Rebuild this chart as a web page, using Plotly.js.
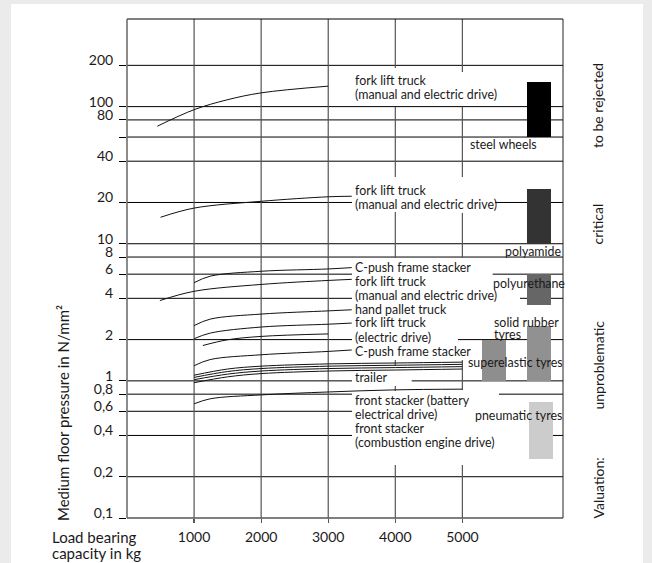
<!DOCTYPE html>
<html><head><meta charset="utf-8">
<script src="https://cdn.plot.ly/plotly-3.0.1.min.js"></script>
<style>html,body{margin:0;padding:0;background:#ebebeb}</style>
</head><body><div id="chart" style="width:652px;height:563px"></div>
<script>
// ---------- axis ticks ----------
const yTickVals = [0.1,0.2,0.4,0.6,0.8,1,2,4,6,8,10,20,40,60,80,100,200];
const yTickText = ['0,1','0,2','0,4','0,6','0,8','1','2','4','6','8','10','20','40','','80','100','200'];
const xTickVals = [1000,2000,3000,4000,5000];
const xTickText = ['1000','2000','3000','4000','5000'];

// ---------- curves: load bearing capacity (kg) vs floor pressure (N/mm²) ----------
const forkTopX = [452,1000,1490,2000,3000];
const forkTopY = [72,95,112,126,141];
const forkMidX = [500,1000,2000,3000,3350];
const forkMidY = [15.6,18.2,20.4,22.0,22.2];
const cpush1X = [1000,1240,2000,3000,3350];
const cpush1Y = [5.2,5.8,6.3,6.55,6.7];
const forkManX = [490,1000,2000,3000,3350];
const forkManY = [3.85,4.5,5.05,5.4,5.5];
const palletX = [1000,1240,2000,3000,3350];
const palletY = [2.53,2.82,3.07,3.24,3.3];
const forkElX = [1000,1240,2000,3000,3350];
const forkElY = [2.03,2.23,2.47,2.59,2.64];
const shortX = [1130,1490,2000,3000];
const shortY = [1.81,1.99,2.11,2.2];
const cpush2X = [1000,1240,2000,3000,3350];
const cpush2Y = [1.29,1.43,1.55,1.64,1.68];
const bundleX = [1000,1500,2000,3000,4000,5000];
const bundle1Y = [1.10,1.22,1.28,1.33,1.35,1.37];
const bundle2Y = [1.06,1.17,1.23,1.28,1.30,1.32];
const bundle3Y = [1.02,1.12,1.18,1.23,1.25,1.27];
const bundle4Y = [0.97,1.07,1.13,1.18,1.20,1.22];
const frontX = [1000,1240,2000,3000,4000,5000];
const frontY = [0.68,0.74,0.79,0.83,0.86,0.87];

// ---------- wheel materials: pressure range ----------
const materials = ['steel wheels','polyamide','polyurethane','solid rubber tyres','superelastic tyres','pneumatic tyres'];
const matMin = [60,10,3.6,1,1,0.27];
const matMax = [150,25,6,2.5,2,0.7];
const matColors = ['#000000','#333333','#666666','#919191','#8e8e8e','#cccccc'];

// ---------- texts ----------
const curveLabels = ['fork lift truck','(manual and electric drive)','fork lift truck','(manual and electric drive)',
  'C-push frame stacker','fork lift truck','(manual and electric drive)','hand pallet truck','fork lift truck',
  '(electric drive)','C-push frame stacker','trailer','front stacker (battery','electrical drive)','front stacker',
  '(combustion engine drive)'];
const materialLabels = ['steel wheels','polyamide','polyurethane','solid rubber','tyres','superelastic tyres','pneumatic tyres'];
const valuationLabels = ['to be rejected','critical','unproblematic','Valuation:'];
const yTitle = 'Medium floor pressure in N/mm²';
const xTitle = ['Load bearing','capacity in kg'];

// ---------- layout geometry (pixels) ----------
const L=127, R=563, T=19, B=518;
const PW=R-L, PH=B-T;
const YMIN=-1, YMAX=2.639, XMAX=6500;
const xp = px => (px-L)/PW;
const yp = py => (B-py)/PH;
const lp = v => (Math.log10(v)-YMIN)/(YMAX-YMIN);
const kg = px => (px-L)/PW*XMAX;

const FONT = 'Lato, "Open Sans", sans-serif';
const TXT = '#1a1a1a';

const curveLabelY = [80,94,190,204,267.5,281,295,309,322.5,337.5,351,378,400,414,428,442];
const materialLabelPos = [[470,144],[505,251],[492.7,283.5],[494,322.5],[494,334],[468.3,362],[475,415.5]];
const valuationY = [105.5,224,365,488];
const matCol = [kg(538.8),kg(538.8),kg(538.8),kg(538.8),kg(493.8),kg(541.2)];
const matWidth = kg(127+24.3);

// horizontal gridline visible segments (pixel x ranges)
const full = [[L,R]];
const hSegs = {
  200: full, 100: full, 80: full, 60: full, 40: full,
  20: [[L,352],[495,R]], 10: full, 8: full,
  6: [[L,352],[492.7,R]], 4: [[L,352],[520,R]], 2: [[L,352],[458,R]],
  1: [[L,352],[411.7,R]], 0.8: [[L,352],[499,R]], 0.6: [[L,352]],
  0.4: [[L,352],[529,R]], 0.2: full, 0.1: full
};
// vertical gridline visible segments (pixel y ranges)
const vSegs = {
  1000: [[T,B]], 2000: [[T,B]], 3000: [[T,B]],
  4000: [[T,68],[106.7,177],[212,258],[360,366],[386,391],[465,B]],
  5000: [[T,72],[106.7,177],[213,258],[360,390],[465,B]]
};

const shapes = [];
// white panel
shapes.push({type:'rect', xref:'paper', yref:'paper', x0:xp(11), x1:xp(643), y0:yp(570), y1:yp(4),
  fillcolor:'#ffffff', line:{width:0}, layer:'below'});
Object.keys(hSegs).forEach(k => {
  const v = parseFloat(k);
  hSegs[k].forEach(s => shapes.push({type:'line', xref:'x', yref:'paper', x0:kg(s[0]), x1:kg(s[1]),
    y0:lp(v), y1:lp(v), line:{color:'#000', width:1}, layer:'below'}));
});
Object.keys(vSegs).forEach(k => {
  const x = parseFloat(k);
  vSegs[k].forEach(s => shapes.push({type:'line', xref:'x', yref:'paper', x0:x, x1:x,
    y0:yp(s[0]), y1:yp(s[1]), line:{color:'#555', width:1.2}, layer:'below'}));
});
// frame
shapes.push({type:'line', xref:'paper', yref:'paper', x0:0, x1:1, y0:1, y1:1, line:{color:'#000', width:1}});
shapes.push({type:'line', xref:'paper', yref:'paper', x0:0, x1:0, y0:0, y1:1, line:{color:'#666', width:1.5}});
shapes.push({type:'line', xref:'paper', yref:'paper', x0:1, x1:1, y0:0, y1:1, line:{color:'#222', width:1}});

const LBL = 12.4;
const annotations = [];
curveLabels.forEach((t,i) => annotations.push({text:t, xref:'paper', yref:'paper', x:xp(354), y:yp(curveLabelY[i]),
  xanchor:'left', yanchor:'middle', showarrow:false, borderpad:0, font:{family:FONT, size:LBL, color:TXT}}));
materialLabels.forEach((t,i) => annotations.push({text:t, xref:'paper', yref:'paper', x:xp(materialLabelPos[i][0]-1),
  y:yp(materialLabelPos[i][1]), xanchor:'left', yanchor:'middle', showarrow:false, borderpad:0,
  font:{family:FONT, size:LBL, color:TXT}}));
valuationLabels.forEach((t,i) => annotations.push({text:t, xref:'paper', yref:'paper', x:xp(597.5), y:yp(valuationY[i]),
  xanchor:'center', yanchor:'middle', textangle:-90, showarrow:false, borderpad:0,
  font:{family:FONT, size:14, color:TXT}}));
annotations.push({text:yTitle, xref:'paper', yref:'paper', x:xp(63), y:yp(413), xanchor:'center', yanchor:'middle',
  textangle:-90, showarrow:false, borderpad:0, font:{family:FONT, size:15, color:TXT}});
annotations.push({text:xTitle[0], xref:'paper', yref:'paper', x:xp(51), y:yp(537), xanchor:'left', yanchor:'middle',
  showarrow:false, borderpad:0, font:{family:FONT, size:15, color:TXT}});
annotations.push({text:xTitle[1], xref:'paper', yref:'paper', x:xp(51), y:yp(553), xanchor:'left', yanchor:'middle',
  showarrow:false, borderpad:0, font:{family:FONT, size:15, color:TXT}});

const lineStyle = {color:'#111', width:1, shape:'spline', smoothing:1};
const curves = [
  [forkTopX, forkTopY], [forkMidX, forkMidY], [cpush1X, cpush1Y], [forkManX, forkManY],
  [palletX, palletY], [forkElX, forkElY], [shortX, shortY], [cpush2X, cpush2Y],
  [bundleX, bundle1Y], [bundleX, bundle2Y], [bundleX, bundle3Y], [bundleX, bundle4Y], [frontX, frontY]
];
const data = [{
  type:'bar', x:matCol, y:matMax.map((v,i)=>v-matMin[i]), base:matMin, width:matCol.map(()=>matWidth),
  marker:{color:matColors, line:{width:0}}, text:materials, textposition:'none', hoverinfo:'skip'
}];
curves.forEach(c => data.push({type:'scatter', mode:'lines', x:c[0], y:c[1], line:lineStyle, hoverinfo:'skip'}));

const layout = {
  width:652, height:563,
  margin:{l:L, r:652-R, t:T, b:563-B, pad:0},
  paper_bgcolor:'#ebebeb', plot_bgcolor:'rgba(0,0,0,0)',
  showlegend:false, hovermode:false, bargap:0,
  xaxis:{range:[0,XMAX], tickvals:xTickVals, ticktext:xTickText, showgrid:false, zeroline:false, showline:false,
    ticks:'outside', ticklen:4, tickcolor:'#555', tickwidth:1.2, ticklabelstandoff:2,
    tickfont:{family:FONT, size:14, color:TXT}, fixedrange:true},
  yaxis:{type:'log', range:[YMIN,YMAX], tickvals:yTickVals, ticktext:yTickText, showgrid:false, zeroline:false,
    showline:false, ticks:'outside', ticklen:7, tickcolor:'#000', tickwidth:1, ticklabelshift:-5, ticklabelstandoff:3,
    tickfont:{family:FONT, size:14, color:TXT}, fixedrange:true},
  shapes:shapes, annotations:annotations
};
Plotly.newPlot('chart', data, layout, {staticPlot:true, displayModeBar:false});
</script></body></html>
